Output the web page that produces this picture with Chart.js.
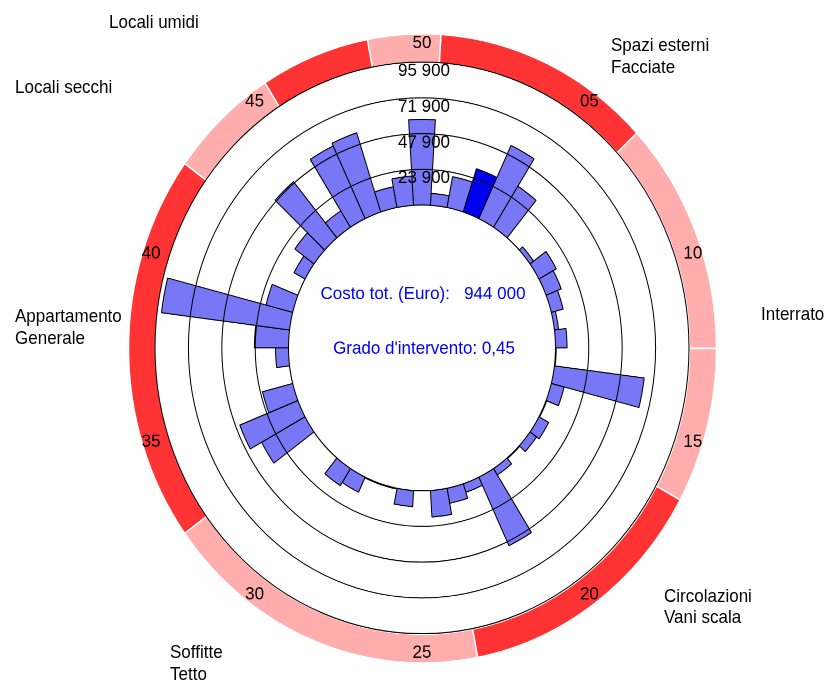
<!DOCTYPE html>
<html>
<head>
<meta charset="utf-8">
<script src="https://cdn.jsdelivr.net/npm/chart.js@4.4.1/dist/chart.umd.min.js"></script>
<style>
  html, body { margin: 0; padding: 0; background: #fff; width: 830px; height: 684px; }
  #page { position: relative; width: 830px; height: 684px; overflow: hidden; }
  #stage {
    position: absolute; left: 0; top: 0; width: 830px; height: 639px;
    transform: scaleY(1.0704); transform-origin: 0 0;
    font-family: "Liberation Sans", Arial, sans-serif; font-size: 17px; color: #000;
  }
  #wheel { position: absolute; left: 0; top: 0; }
  .grp { position: absolute; line-height: 20px; white-space: nowrap; }
</style>
</head>
<body>
<div id="page">
<div id="stage">
  <canvas id="wheel" width="830" height="639"></canvas>
  <div class="grp" style="left:109px;top:11px">Locali umidi</div>
  <div class="grp" style="left:15px;top:72px">Locali secchi</div>
  <div class="grp" style="left:611px;top:33px">Spazi esterni<br>Facciate</div>
  <div class="grp" style="left:761px;top:284px">Interrato</div>
  <div class="grp" style="left:15px;top:286px">Appartamento<br>Generale</div>
  <div class="grp" style="left:664px;top:547px">Circolazioni<br>Vani scala</div>
  <div class="grp" style="left:170px;top:600px">Soffitte<br>Tetto</div>
</div>
</div>
<script>
// items 01..50, clockwise, 50 at the top
const items = ['01','02','03','04','05','06','07','08','09','10',
               '11','12','13','14','15','16','17','18','19','20',
               '21','22','23','24','25','26','27','28','29','30',
               '31','32','33','34','35','36','37','38','39','40',
               '41','42','43','44','45','46','47','48','49','50'];

// cost per item (Euro)
const costs = [ 8000, 21100, 30500, 54300, 32600,     0,  3200, 14200, 11700,  8800,
                3000,  8300,   500, 65000,  9500,   500,  8000,  5800,   500,  5100,
               50800,  6000, 10200, 17800,     0, 10800,   500,   500, 11100, 13600,
                   0,     0, 35600, 44900, 22400,     0,  9350, 24500, 92750, 19800,
                   0,  9000, 17000, 48900, 13000, 53900, 55900, 14150, 19600, 57500];

const highlighted = ['03'];

const tickValues = [23900, 47900, 71900, 95900];
const tickLabels = ['23 900', '47 900', '71 900', '95 900'];

// outer ring: number of items per group, clockwise from item 01
const ringSizes = [6, 6, 4, 7, 9, 10, 3, 3, 2];
const ringColours = ['#ff3333', '#ffadad', '#ffadad', '#ff3333', '#ffadad',
                     '#ff3333', '#ffadad', '#ff3333', '#ffadad'];
const ringMarks = ['05', '10', '15', '20', '25', '30', '35', '40', '45', '50'];

const totalCost = '944 000';
const grade = '0,45';

const barColour = '#7878f6';
const barHighlight = '#0000f0';
const textFont = '17px "Liberation Sans", Arial, sans-serif';

const wheelText = {
  id: 'wheelText',
  afterDatasetsDraw(chart) {
    // white hole in the middle of the wheel
    const r = chart.scales.r;
    const ctx = chart.ctx;
    const hole = r.getDistanceFromCenterForValue(0);
    ctx.save();
    ctx.beginPath();
    ctx.arc(r.xCenter, r.yCenter, hole, 0, Math.PI * 2);
    ctx.fillStyle = '#fff';
    ctx.fill();
    ctx.lineWidth = 1;
    ctx.strokeStyle = '#000';
    ctx.stroke();
    ctx.restore();
  },
  afterDraw(chart) {
    const r = chart.scales.r;
    const ctx = chart.ctx;
    ctx.save();
    ctx.font = textFont;
    ctx.textAlign = 'center';

    // tick labels just inside each circle, at the top
    ctx.fillStyle = '#000';
    ctx.textBaseline = 'alphabetic';
    r.ticks.forEach((t) => {
      const d = r.getDistanceFromCenterForValue(t.value);
      ctx.fillText(t.label, r.xCenter + 2, r.yCenter - d + 13);
    });

    // numbers in the outer ring
    const ring = chart.getDatasetMeta(0).controller;
    const dist = ring.innerRadius + (ring.outerRadius - ring.innerRadius) * 0.66;
    ctx.textBaseline = 'middle';
    items.forEach((lab, i) => {
      if (!ringMarks.includes(lab)) return;
      const p = r.getPointPosition(i, dist, Math.PI / items.length);
      ctx.fillText(lab, p.x, p.y);
    });

    // centre text
    ctx.fillStyle = '#0000ff';
    ctx.fillText('Costo tot. (Euro):   ' + totalCost, r.xCenter + 1, r.yCenter - 50);
    ctx.fillText("Grado d'intervento: " + grade, r.xCenter + 2, r.yCenter + 1);
    ctx.restore();
  }
};

new Chart(document.getElementById('wheel'), {
  type: 'polarArea',
  data: {
    labels: items,
    datasets: [
      {
        type: 'doughnut',
        data: ringSizes,
        backgroundColor: ringColours,
        borderColor: '#ffffff',
        borderWidth: 1.5,
        radius: 294,
        cutout: '90.8%',
        rotation: 3.6,
        hoverOffset: 0
      },
      {
        data: costs,
        weight: 0,
        backgroundColor: (c) => highlighted.includes(items[c.dataIndex]) ? barHighlight : barColour,
        borderColor: '#000',
        borderWidth: 1
      }
    ]
  },
  options: {
    responsive: false,
    devicePixelRatio: 2,
    animation: false,
    events: [],
    layout: { padding: { left: 15, top: 12, right: 0, bottom: 0 } },
    scales: {
      r: {
        min: -95900,
        max: 128950,
        beginAtZero: false,
        startAngle: 3.6,
        afterBuildTicks: (scale) => { scale.ticks = tickValues.map(v => ({ value: v })); },
        ticks: { display: false, callback: (v, i) => tickLabels[i] },
        grid: { color: '#000', lineWidth: 1, circular: true, z: 1 },
        angleLines: { display: false },
        pointLabels: { display: false }
      }
    },
    plugins: {
      legend: { display: false },
      tooltip: { enabled: false }
    }
  },
  plugins: [wheelText]
});
</script>
</body>
</html>
